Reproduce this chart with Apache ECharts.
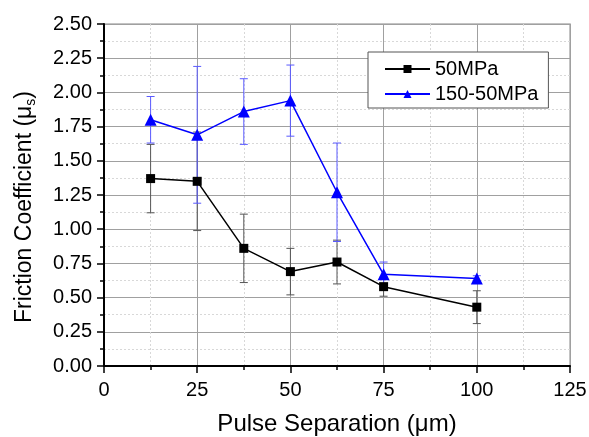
<!DOCTYPE html>
<html>
<head>
<meta charset="utf-8">
<script src="https://cdn.jsdelivr.net/npm/echarts@6/dist/echarts.min.js"></script>
<style>
  html, body { margin: 0; padding: 0; background: #fff; }
  #chart { width: 589px; height: 437px; }
</style>
</head>
<body>
<div id="chart"></div>
<script>
// Pulse separation (µm)
const pulseSep = [12.5, 25, 37.5, 50, 62.5, 75, 100];
// 50MPa: mean friction coefficient and error
const mean50 = [1.37, 1.35, 0.86, 0.69, 0.76, 0.58, 0.43];
const err50 = [0.25, 0.36, 0.25, 0.17, 0.16, 0.07, 0.12];
// 150-50MPa: mean friction coefficient and error
const mean150 = [1.80, 1.69, 1.86, 1.94, 1.27, 0.67, 0.64];
const err150 = [0.17, 0.50, 0.24, 0.26, 0.36, 0.09, 0.02];

const FONT = '"Liberation Sans", Arial, sans-serif';

function pairs(xs, ys) { return xs.map((x, i) => [x, ys[i]]); }
function errRows(xs, ys, es) { return xs.map((x, i) => [x, ys[i] - es[i], ys[i] + es[i]]); }

function errorBarSeries(name, rows, color) {
  return {
    type: 'custom',
    name: name + ' err',
    z: 1,
    silent: true,
    data: rows,
    renderItem: function (params, api) {
      const x = api.value(0);
      const lo = api.coord([x, api.value(1)]);
      const hi = api.coord([x, api.value(2)]);
      const hw = 4;
      const st = { stroke: color, lineWidth: 1 };
      return {
        type: 'group',
        children: [
          { type: 'line', shape: { x1: lo[0], y1: lo[1], x2: hi[0], y2: hi[1] }, style: st },
          { type: 'line', shape: { x1: lo[0] - hw, y1: lo[1], x2: lo[0] + hw, y2: lo[1] }, style: st },
          { type: 'line', shape: { x1: hi[0] - hw, y1: hi[1], x2: hi[0] + hw, y2: hi[1] }, style: st }
        ]
      };
    },
    encode: { x: 0, y: [1, 2] }
  };
}

const chart = echarts.init(document.getElementById('chart'), null, { renderer: 'canvas' });

chart.setOption({
  animation: false,
  backgroundColor: '#fff',
  textStyle: { fontFamily: FONT },
  grid: {
    left: 104, right: 19, top: 24, bottom: 71,
    containLabel: false,
    outerBoundsMode: 'none',
    show: true, borderColor: '#b0b0b0', borderWidth: 1.5
  },
  legend: {
    data: ['50MPa', '150-50MPa'],
    orient: 'vertical',
    left: 368, top: 52,
    padding: [7, 10, 4, 16],
    itemGap: 5,
    itemWidth: 45, itemHeight: 10,
    borderColor: '#555', borderWidth: 1,
    backgroundColor: '#fff',
    textStyle: { fontFamily: FONT, fontSize: 20, color: '#000' }
  },
  xAxis: {
    type: 'value',
    min: 0, max: 125, interval: 25,
    name: 'Pulse Separation (\u03bcm)',
    nameLocation: 'middle',
    nameGap: 46,
    nameTextStyle: { fontFamily: FONT, fontSize: 24, color: '#000' },
    axisLine: { show: true, onZero: false, lineStyle: { color: '#000', width: 2 } },
    axisTick: { show: true, inside: false, length: 7, lineStyle: { color: '#000', width: 1.5 } },
    minorTick: { show: true, splitNumber: 2, length: 4, lineStyle: { color: '#000', width: 1.5 } },
    axisLabel: { fontFamily: FONT, fontSize: 20, color: '#000', margin: 14 },
    splitLine: { show: true, lineStyle: { color: '#a0a0a0', width: 1 } },
    minorSplitLine: { show: true, lineStyle: { color: '#d8d8d8', width: 1, type: [2, 2] } }
  },
  yAxis: {
    type: 'value',
    min: 0, max: 2.5, interval: 0.25,
    name: '{n|Friction Coefficient (\u03bc}{s|s}{n|)}',
    nameLocation: 'middle',
    nameGap: 66,
    nameRotate: 90,
    nameTextStyle: {
      fontFamily: FONT, fontSize: 23, color: '#000',
      padding: [0, 24, 0, 0],
      rich: {
        n: { fontFamily: FONT, fontSize: 23, color: '#000' },
        s: { fontFamily: FONT, fontSize: 14, color: '#000', padding: [12, 0, 0, 0] }
      }
    },
    axisLine: { show: true, onZero: false, lineStyle: { color: '#000', width: 2 } },
    axisTick: { show: true, inside: false, length: 7, lineStyle: { color: '#000', width: 1.5 } },
    minorTick: { show: true, splitNumber: 2, length: 4, lineStyle: { color: '#000', width: 1.5 } },
    axisLabel: {
      fontFamily: FONT, fontSize: 20, color: '#000', margin: 12,
      formatter: v => v.toFixed(2)
    },
    splitLine: { show: true, lineStyle: { color: '#a0a0a0', width: 1 } },
    minorSplitLine: { show: true, lineStyle: { color: '#d8d8d8', width: 1, type: [2, 2] } }
  },
  series: [
    errorBarSeries('50MPa', errRows(pulseSep, mean50, err50), '#555555'),
    errorBarSeries('150-50MPa', errRows(pulseSep, mean150, err150), '#5a5aff'),
    {
      name: '50MPa',
      type: 'line',
      z: 3,
      data: pairs(pulseSep, mean50),
      symbol: 'rect',
      symbolSize: 9,
      itemStyle: { color: '#000' },
      lineStyle: { color: '#000', width: 1.5 }
    },
    {
      name: '150-50MPa',
      type: 'line',
      z: 4,
      data: pairs(pulseSep, mean150),
      symbol: 'triangle',
      symbolSize: 12,
      itemStyle: { color: '#0000ff' },
      lineStyle: { color: '#0000ff', width: 1.5 }
    }
  ]
});
</script>
</body>
</html>
